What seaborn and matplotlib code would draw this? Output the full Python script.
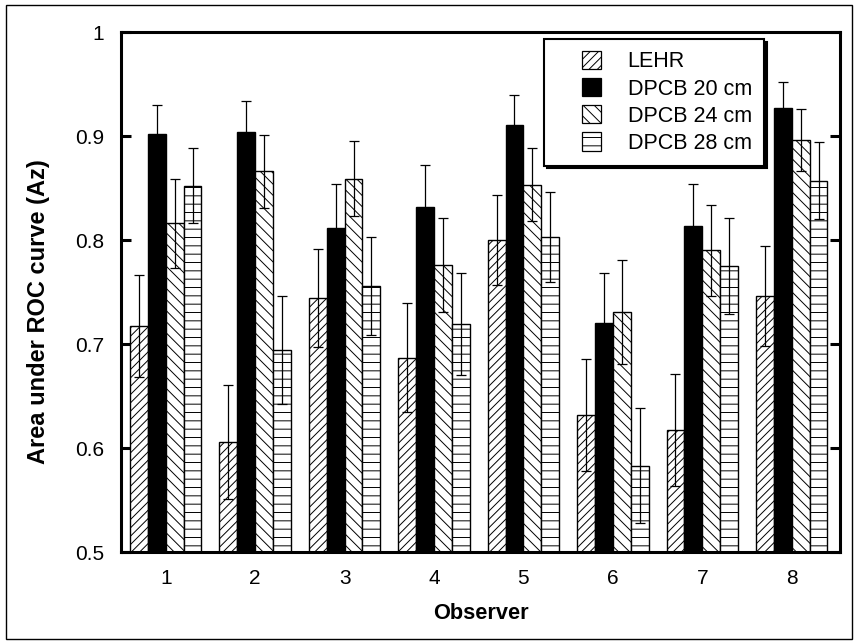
import numpy as np
import pandas as pd
import matplotlib
matplotlib.use("Agg")
import matplotlib.pyplot as plt
import seaborn as sns
from matplotlib.patches import Patch, Rectangle
from matplotlib.legend_handler import HandlerPatch

# ---- data ----
observers = ["1", "2", "3", "4", "5", "6", "7", "8"]
methods = ["LEHR", "DPCB 20 cm", "DPCB 24 cm", "DPCB 28 cm"]
az_lehr = [0.717, 0.606, 0.744, 0.687, 0.800, 0.632, 0.617, 0.746]
az_dpcb20 = [0.902, 0.904, 0.812, 0.832, 0.911, 0.720, 0.813, 0.927]
az_dpcb24 = [0.816, 0.866, 0.859, 0.776, 0.853, 0.731, 0.790, 0.896]
az_dpcb28 = [0.852, 0.694, 0.756, 0.719, 0.803, 0.583, 0.775, 0.857]
err_lehr = [0.049, 0.055, 0.047, 0.052, 0.043, 0.054, 0.054, 0.048]
err_dpcb20 = [0.028, 0.030, 0.042, 0.040, 0.028, 0.048, 0.041, 0.025]
err_dpcb24 = [0.043, 0.035, 0.036, 0.045, 0.035, 0.050, 0.044, 0.030]
err_dpcb28 = [0.036, 0.052, 0.047, 0.049, 0.043, 0.055, 0.046, 0.037]
ytick_values = [0.5, 0.6, 0.7, 0.8, 0.9, 1.0]
ytick_labels = ["0.5", "0.6", "0.7", "0.8", "0.9", "1"]

values = [az_lehr, az_dpcb20, az_dpcb24, az_dpcb28]
errors = [err_lehr, err_dpcb20, err_dpcb24, err_dpcb28]

rows = []
for m, vals, errs in zip(methods, values, errors):
    for o, v, e in zip(observers, vals, errs):
        rows.append({"Observer": o, "Method": m, "Az": v, "err": e})
df = pd.DataFrame(rows)

# ---- style ----
sns.set_style("ticks")
plt.rcParams["font.family"] = ["Liberation Sans", "DejaVu Sans"]
plt.rcParams["hatch.linewidth"] = 0.7
plt.rcParams["hatch.color"] = "black"
for k in ["text.color", "axes.labelcolor", "xtick.color", "ytick.color", "axes.edgecolor"]:
    plt.rcParams[k] = "black"

facecolors = ["white", "black", "white", "white"]
hatches = ["////", "", "\\\\\\", "--"]
palette = dict(zip(methods, facecolors))

fig = plt.figure(figsize=(8.58, 6.44), dpi=100)
ax = fig.add_axes([121 / 858, 1 - 552 / 644, 719 / 858, 520 / 644])

sns.barplot(data=df, x="Observer", y="Az", hue="Method", hue_order=methods,
            order=observers, palette=palette, saturation=1, width=0.8,
            edgecolor="black", linewidth=1.0, errorbar=None, legend=False, ax=ax)

for container, h, m in zip(ax.containers, hatches, methods):
    sub = df[df["Method"] == m].set_index("Observer").loc[observers]
    xs = []
    for bar in container:
        bar.set_hatch(h)
        bar.set_edgecolor("black")
        xs.append(bar.get_x() + bar.get_width() / 2)
    ax.errorbar(xs, sub["Az"].values, yerr=sub["err"].values, fmt="none",
                ecolor="black", elinewidth=0.9, capsize=3.5, capthick=0.9, zorder=5)

ax.set_ylim(0.5, 1.0)
ax.set_xlim(-0.5, 7.54)
ax.set_yticks(ytick_values)
ax.set_yticklabels(ytick_labels)

for s in ax.spines.values():
    s.set_visible(True)
    s.set_linewidth(2.2)
    s.set_color("black")

ax.tick_params(axis="y", direction="in", length=7, width=2.2, pad=12,
               labelsize=15, left=True, right=True, labelright=False)
ax.tick_params(axis="x", length=0, pad=12, labelsize=15)

ax.set_xlabel("Observer", fontsize=15.7, fontweight="bold")
ax.set_ylabel("Area under ROC curve (Az)", fontsize=17, fontweight="bold")
ax.xaxis.set_label_coords(0.5, (552 - 603) / 520)
ax.yaxis.set_label_coords((50 - 121) / 719, (552 - 312) / 520)

# ---- legend ----
def square_patch(legend, orig_handle, xdescent, ydescent, width, height, fontsize):
    return Rectangle((-xdescent + width - height, -ydescent), height, height)

handles = [Patch(facecolor=fc, edgecolor="black", hatch=h, linewidth=0.9)
           for fc, h in zip(facecolors, hatches)]
leg = fig.legend(handles, methods, loc="upper left",
                 bbox_to_anchor=(544 / 858, 1 - 39 / 644),
                 fontsize=15.5, frameon=True, fancybox=False,
                 shadow={"color": "black", "alpha": 1.0},
                 handlelength=2.08, handleheight=0.93, handletextpad=1.26,
                 labelspacing=0.26, borderpad=0.55, borderaxespad=0,
                 handler_map={Patch: HandlerPatch(patch_func=square_patch)})
leg.get_frame().set_edgecolor("black")
leg.get_frame().set_linewidth(1.5)
leg.get_frame().set_alpha(1)

# ---- outer frame ----
fig.patches.append(Rectangle((6 / 858, 1 - 639 / 644), (852 - 6) / 858, (639 - 5) / 644,
                             transform=fig.transFigure, fill=False,
                             edgecolor="black", linewidth=1.0))

fig.savefig("out.png", dpi=100)
